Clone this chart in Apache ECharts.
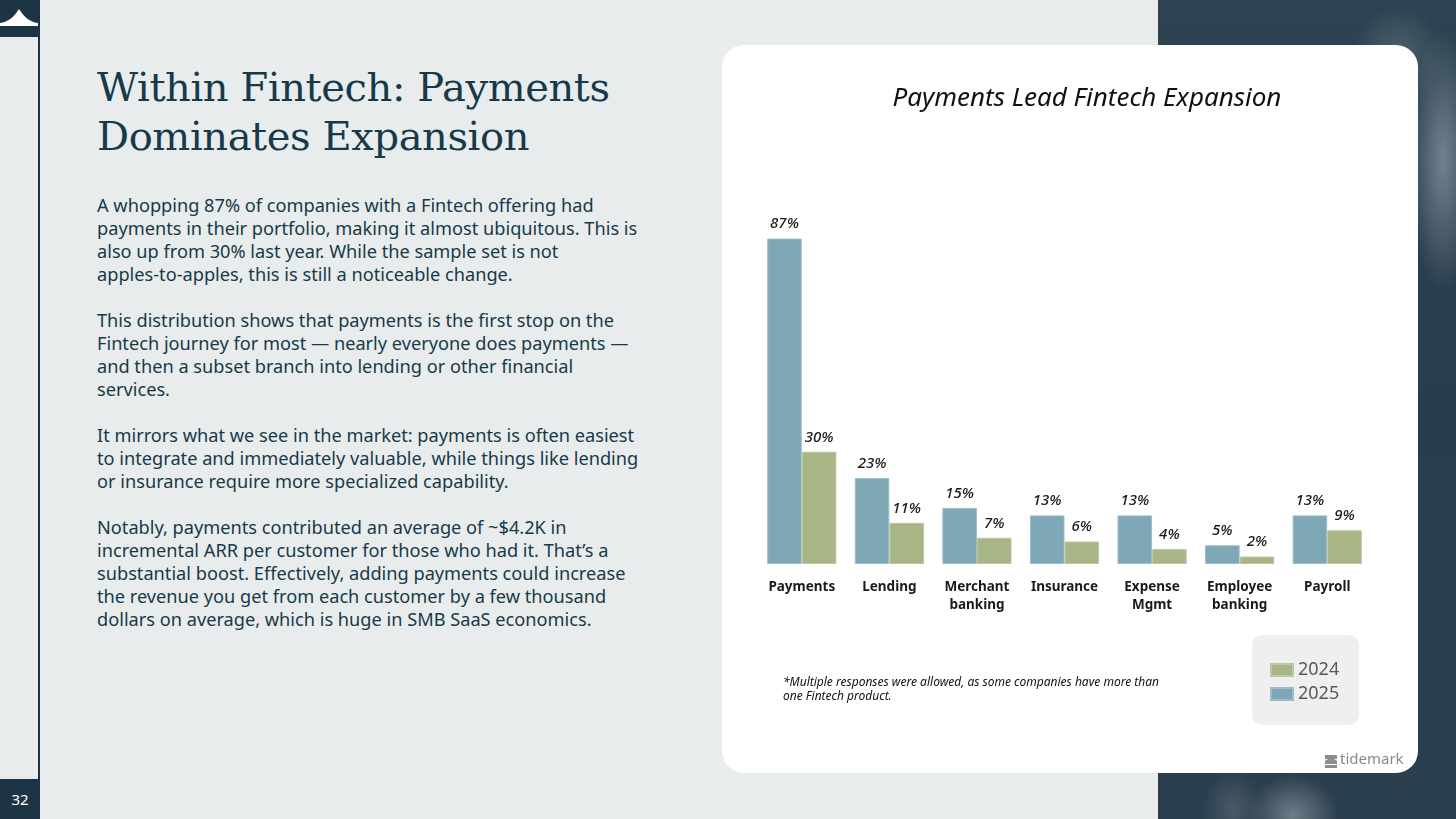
<!DOCTYPE html>
<html>
<head>
<meta charset="utf-8">
<script src="https://cdn.jsdelivr.net/npm/echarts@6/dist/echarts.min.js"></script>
<style>
  html, body { margin: 0; padding: 0; }
  body { width: 1456px; height: 819px; position: relative; overflow: hidden; background: #e8ecec; font-family: "Noto Sans", sans-serif; }
  #sea { position: absolute; left: 1158px; top: 0; width: 298px; height: 819px;
    background:
      radial-gradient(ellipse 35px 130px at 285px 160px, rgba(185,196,202,0.5), rgba(185,196,202,0) 100%),
      radial-gradient(ellipse 45px 50px at 240px 55px, rgba(150,168,176,0.3), rgba(150,168,176,0) 100%),
      radial-gradient(ellipse 45px 40px at 135px 815px, rgba(190,200,204,0.45), rgba(190,200,204,0) 100%),
      radial-gradient(ellipse 30px 40px at 75px 810px, rgba(140,156,165,0.3), rgba(140,156,165,0) 100%),
      linear-gradient(180deg, #2e4251 0%, #2a3d4c 50%, #2c3f4e 100%); }
  #rail { position: absolute; left: 38px; top: 0; width: 2px; height: 819px; background: #1d3445; }
  #logo { position: absolute; left: 0; top: 0; }
  #pageno { position: absolute; left: 0; top: 779px; width: 40px; height: 40px; background: #1d3445; color: #fff; font-size: 15px; line-height: 40px; text-align: center; }
  #title { position: absolute; left: 97px; top: 63px; margin: 0; font-family: "DejaVu Serif", serif; font-weight: normal; font-size: 40px; line-height: 49px; color: #173a4a; white-space: nowrap; letter-spacing: -0.4px; }
  #body { position: absolute; left: 97px; top: 194px; font-size: 18.2px; line-height: 23px; color: #173a4a; white-space: nowrap; }
  #body p { margin: 0 0 23px 0; }
  #card { position: absolute; left: 722px; top: 45px; width: 696px; height: 728px; background: #fff; border-radius: 22px; }
  #chart { position: absolute; left: 0; top: 0; width: 696px; height: 728px; }
</style>
</head>
<body>
<div id="sea"></div>
<svg id="logo" width="40" height="40" viewBox="0 0 40 40">
  <rect x="0" y="0" width="38" height="37" fill="#1d3445"/>
  <path d="M0 23 C8 22 14 17 19 9 C24 17 30 22 38 23 L38 26 L0 26 Z" fill="#ffffff"/>
</svg>
<div id="rail"></div>
<div id="pageno">32</div>

<h1 id="title">Within Fintech: Payments<br>Dominates Expansion</h1>
<div id="body">
  <p>A whopping 87% of companies with a Fintech offering had<br>payments in their portfolio, making it almost ubiquitous. This is<br>also up from 30% last year. While the sample set is not<br>apples-to-apples, this is still a noticeable change.</p>
  <p>This distribution shows that payments is the first stop on the<br>Fintech journey for most — nearly everyone does payments —<br>and then a subset branch into lending or other financial<br>services.</p>
  <p>It mirrors what we see in the market: payments is often easiest<br>to integrate and immediately valuable, while things like lending<br>or insurance require more specialized capability.</p>
  <p>Notably, payments contributed an average of ~$4.2K in<br>incremental ARR per customer for those who had it. That’s a<br>substantial boost. Effectively, adding payments could increase<br>the revenue you get from each customer by a few thousand<br>dollars on average, which is huge in SMB SaaS economics.</p>
</div>

<div id="card"><div id="chart"></div></div>

<script>
// categories and shares (% of companies with a Fintech offering)
var categories = ['Payments', 'Lending', 'Merchant\nbanking', 'Insurance', 'Expense\nMgmt', 'Employee\nbanking', 'Payroll'];
var share2025 = [87, 23, 15, 13, 13, 5, 13];
var share2024 = [30, 11, 7, 6, 4, 2, 9];

var blue = '#7fa8b7';
var green = '#a8b585';
var handFont = '"Noto Sans", sans-serif';

var myChart = echarts.init(document.getElementById('chart'));

var labelStyle = {
    show: true,
    position: 'top',
    distance: 7,
    formatter: '{c}%',
    fontFamily: handFont,
    fontStyle: 'italic',
    fontWeight: 500,
    fontSize: 15,
    color: '#1a1a1a'
};

var option = {
    animation: false,
    title: {
        text: 'Payments Lead Fintech Expansion',
        left: 360,
        top: 36,
        textAlign: 'center',
        textStyle: {
            fontFamily: handFont,
            fontStyle: 'italic',
            fontWeight: 'normal',
            fontSize: 26,
            color: '#111'
        }
    },
    legend: {
        data: ['2024', '2025'],
        orient: 'vertical',
        left: 530,
        top: 590,
        width: 108,
        backgroundColor: '#efefef',
        borderRadius: 10,
        padding: [26, 20, 22, 18],
        itemWidth: 22,
        itemHeight: 12,
        itemGap: 6,
        icon: 'rect',
        textStyle: { fontSize: 18, color: '#595959', fontFamily: '"Noto Sans", sans-serif' }
    },
    grid: {
        left: 36,
        right: 47,
        top: 145,
        bottom: 209
    },
    xAxis: {
        type: 'category',
        data: categories,
        axisLine: { show: false },
        axisTick: { show: false },
        axisLabel: {
            interval: 0,
            margin: 14,
            fontFamily: '"Noto Sans", sans-serif',
            fontWeight: 'bold',
            fontSize: 13.5,
            lineHeight: 18,
            color: '#1a1a1a'
        }
    },
    yAxis: {
        type: 'value',
        min: 0,
        max: 100,
        show: false,
        splitLine: { show: false }
    },
    series: [{
        name: '2025',
        type: 'bar',
        data: share2025,
        barGap: '0%',
        barCategoryGap: '21%',
        itemStyle: { color: blue, borderColor: '#9dbdc9', borderWidth: 1 },
        label: labelStyle
    }, {
        name: '2024',
        type: 'bar',
        data: share2024,
        itemStyle: { color: green, borderColor: '#bcc79f', borderWidth: 1 },
        label: labelStyle
    }],
    graphic: [{
        type: 'text',
        left: 61,
        top: 631,
        style: {
            text: '*Multiple responses were allowed, as some companies have more than\none Fintech product.',
            font: 'italic 12px "Noto Sans", sans-serif',
            lineHeight: 14,
            fill: '#111'
        }
    }, {
        type: 'group',
        left: 603,
        top: 707,
        children: [{
            type: 'rect',
            shape: { x: 0, y: 0, width: 12, height: 4 },
            style: { fill: '#8c8c8c' }
        }, {
            type: 'polygon',
            shape: { points: [[0, 6], [6, 2], [12, 6], [12, 9], [0, 9]] },
            style: { fill: '#8c8c8c' }
        }, {
            type: 'rect',
            shape: { x: 0, y: 10, width: 12, height: 3 },
            style: { fill: '#8c8c8c' }
        }, {
            type: 'text',
            x: 15,
            y: -3,
            style: {
                text: 'tidemark',
                font: '15px "Noto Sans", sans-serif',
                fill: '#8a8a8a'
            }
        }]
    }]
};

myChart.setOption(option);
</script>
</body>
</html>
